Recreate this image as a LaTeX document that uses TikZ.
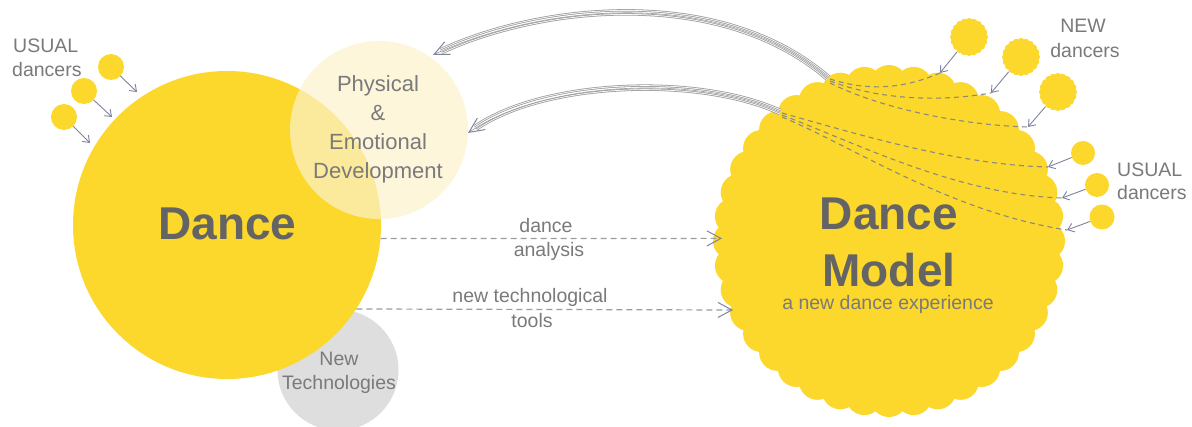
\documentclass[tikz,border=0pt]{standalone}
\usepackage{fontspec}
\setmainfont{Liberation Sans}
\usetikzlibrary{arrows.meta}

\definecolor{sun}{HTML}{FCD72C}
\definecolor{pale}{HTML}{FDF3CC}
\definecolor{techgray}{HTML}{DEDEDE}
\definecolor{labelgray}{HTML}{7A7A7A}
\definecolor{titlegray}{HTML}{646464}
\definecolor{pointer}{HTML}{7E849E}
\definecolor{trail}{HTML}{8E8A78}
\definecolor{rope}{HTML}{9C9C9C}

% disc with a scalloped rim: x, y, core radius, bump radius, bump count
\newcommand{\scallopdisc}[5]{%
  \fill[sun] (#1,#2) circle (#3pt);
  \foreach \k in {1,...,#5} \fill[sun] (#1,#2) ++(\k*360/#5:#3pt) circle (#4pt);%
}
% striped rope-like curve ending in an open arrow
\newcommand{\ropearc}[4]{%
  \draw[rope, line width=6.4pt, shorten >=9pt] (#1) .. controls (#2) and (#3) .. (#4);
  \draw[white, line width=4.8pt, shorten >=9pt] (#1) .. controls (#2) and (#3) .. (#4);
  \draw[rope, line width=3.2pt, shorten >=9pt] (#1) .. controls (#2) and (#3) .. (#4);
  \draw[white, line width=1.6pt, shorten >=9pt] (#1) .. controls (#2) and (#3) .. (#4);
  \draw[rope, line width=0.6pt, -{Straight Barb[length=15pt,width=14pt,line width=1pt,color=pointer]}]
    (#1) .. controls (#2) and (#3) .. (#4);%
}

\begin{document}
\begin{tikzpicture}[x=1pt,y=-1pt,
  dancer/.style={circle, fill=sun, inner sep=0pt, minimum size=26pt},
  newdancer/.style={circle, inner sep=0pt, minimum size=38pt},
  lab/.style={text=labelgray, font=\fontsize{19.5}{24}\selectfont, inner sep=0pt},
  biglab/.style={text=titlegray, font=\fontsize{46}{56}\selectfont\bfseries, inner sep=0pt},
  poke/.style={draw=pointer, line width=0.9pt, -{Straight Barb[length=6pt,width=9pt]}},
  flow/.style={draw=rope, line width=1.2pt, dash pattern=on 6pt off 4pt,
    -{Straight Barb[length=14pt,width=15pt,color=pointer,line width=1pt]}},
  trailline/.style={draw=trail, line width=1.1pt, dash pattern=on 5pt off 4pt}
]
\useasboundingbox (0,0) rectangle (1192,427);
\fill[white] (0,0) rectangle (1192,427);
\clip (0,0) rectangle (1192,427);

% left cluster of circles
\node[circle, fill=techgray, minimum size=121pt, inner sep=0pt] (tech) at (338,370) {};
\node[circle, fill=sun, minimum size=308pt, inner sep=0pt] (dance) at (227,225) {};
\node[circle, fill=pale, fill opacity=0.7, minimum size=178pt, inner sep=0pt] (phys) at (379,130) {};

\node[biglab, anchor=base] (dancetxt) at (227.5,239.3) {Dance};
\node[lab, align=center, font=\fontsize{22}{29}\selectfont] (phystxt) at (378,129)
  {Physical\\\&\\Emotional\\Development};
\node[lab, align=center] (techtxt) at (339,373) {New\\Technologies};

% usual dancers on the left
\node[dancer] (u1) at (111,67) {};
\node[dancer] (u2) at (84,91) {};
\node[dancer] (u3) at (64,117) {};
\coordinate (u1t) at (137,92);
\coordinate (u2t) at (112,117);
\coordinate (u3t) at (90,143);
\draw[poke] (u1) -- (u1t);
\draw[poke] (u2) -- (u2t);
\draw[poke] (u3) -- (u3t);
\node[lab, anchor=base west] (usualL) at (13,53) {USUAL};
\node[lab, anchor=base west] (dancersL) at (12,77) {dancers};

% dance model disc
\scallopdisc{889}{241}{157.5}{18.5}{40}
\node[circle, minimum size=352pt, inner sep=0pt] (model) at (889,241) {};
\node[biglab, anchor=base] (modeltxt1) at (889,230) {Dance};
\node[biglab, anchor=base] (modeltxt2) at (889,287) {Model};
\node[lab, anchor=base] (modelsub) at (888,310) {a new dance experience};

% new dancers
\scallopdisc{969}{37}{15.5}{3.5}{20}
\scallopdisc{1021}{57}{15.5}{3.5}{20}
\scallopdisc{1058}{92}{15.5}{3.5}{20}
\node[newdancer] (na) at (969,37) {};
\node[newdancer] (nb) at (1021,57) {};
\node[newdancer] (nc) at (1058,92) {};
\coordinate (nat) at (940,73);
\coordinate (nbt) at (991,93);
\coordinate (nct) at (1028,127);
\node[lab, anchor=base] (newR) at (1083,33) {NEW};
\node[lab, anchor=base] (dancersR1) at (1085,58) {dancers};

% usual dancers on the right
\node[dancer, minimum size=24pt] (ud) at (1083,153) {};
\node[dancer, minimum size=24pt] (ue) at (1097,185) {};
\node[dancer, minimum size=25pt] (uf) at (1102,217) {};
\coordinate (udt) at (1048,167);
\coordinate (uet) at (1062,198);
\coordinate (uft) at (1067,230);
\node[lab, anchor=base west] (usualR) at (1117,177) {USUAL};
\node[lab, anchor=base west] (dancersR2) at (1117,200) {dancers};

% feedback ropes back to development
\coordinate (ropeA) at (828,78);
\coordinate (ropeB) at (780,112);
\coordinate (tipA) at (433,55);
\coordinate (tipB) at (468,133);

% dashed trails inside the model
\draw[trailline] (830,79) .. controls (870,92) and (905,88) .. (nat);
\draw[trailline] (830,81) .. controls (880,100) and (940,102) .. (nbt);
\draw[trailline] (830,83) .. controls (880,108) and (960,125) .. (nct);
\draw[trailline] (782,113) .. controls (860,135) and (960,165) .. (udt);
\draw[trailline] (782,115) .. controls (860,145) and (960,195) .. (uet);
\draw[trailline] (782,117) .. controls (850,145) and (950,212) .. (uft);

\ropearc{ropeA}{720,-15}{540,5}{tipA}
\ropearc{ropeB}{700,75}{545,80}{tipB}

\draw[poke] (na) -- (nat);
\draw[poke] (nb) -- (nbt);
\draw[poke] (nc) -- (nct);
\draw[poke] (ud) -- (udt);
\draw[poke] (ue) -- (uet);
\draw[poke] (uf) -- (uft);

% links from dance to the model
\coordinate (ma) at (722,238.4);
\coordinate (mb) at (733,310);
\draw[flow] (dance.-5) -- (ma);
\draw[flow] (dance.-33.5) -- (mb);
\node[lab, anchor=base] (analysis1) at (546,233) {dance};
\node[lab, anchor=base] (analysis2) at (549,257) {analysis};
\node[lab, anchor=base] (tools1) at (530,303) {new technological};
\node[lab, anchor=base] (tools2) at (532,328) {tools};
\end{tikzpicture}
\end{document}
